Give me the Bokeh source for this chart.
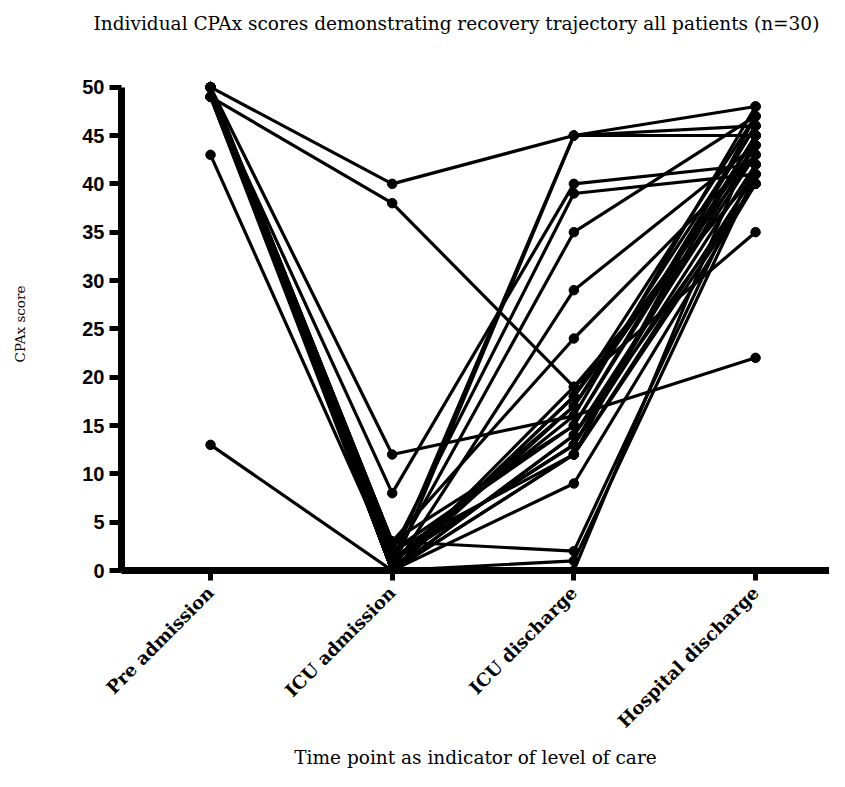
from math import pi
from bokeh.plotting import figure
from bokeh.models import Range1d, FixedTicker, Title
from bokeh.embed import file_html
from bokeh.resources import INLINE

time_points = ["Pre admission", "ICU admission", "ICU discharge", "Hospital discharge"]

# CPAx score of each of the 30 patients at each time point
pre_admission = [50, 49, 50, 49, 43, 13, 50, 50, 50, 50, 50, 50, 50, 50, 50,
                 50, 50, 50, 49, 50, 50, 50, 50, 50, 50, 50, 49, 50, 50, 50]
icu_admission = [40, 38, 12, 8, 1, 0, 1, 0, 2, 1, 0, 3, 0, 1, 2,
                 0, 1, 0, 0, 3, 0, 0, 1, 0, 3, 0, 1, 0, 2, 0]
icu_discharge = [45, 19, 16, 40, 13, 12, 45, 45, 39, 35, 29, 24, 18, 17, 15,
                 14, 13, 12, 9, 2, 1, 0, 16, 17, 15, 14, 13, 18, 12, 19]
hospital_discharge = [48, 35, 22, 42, 44, 41, 46, 45, 41, 47, 44, 43, 47, 46, 45,
                      43, 42, 40, 40, 42, 41, 45, 48, 44, 46, 40, 45, 43, 47, 41]

y_ticks = [0, 5, 10, 15, 20, 25, 30, 35, 40, 45, 50]

series = [pre_admission, icu_admission, icu_discharge, hospital_discharge]
n = len(pre_admission)
xpos = list(range(len(time_points)))
xs = [xpos for _ in range(n)]
ys = [[s[i] for s in series] for i in range(n)]
px = [x for x in xpos for _ in range(n)]
py = [v for s in series for v in s]

p = figure(width=829, height=771, output_backend="svg", toolbar_location=None,
           title=None,
           x_range=Range1d(-0.49, 3.407), y_range=Range1d(0, 51),
           min_border_left=121, min_border_right=0, min_border_top=77,
           min_border_bottom=199)
p.outline_line_color = None
p.grid.visible = False
p.background_fill_color = "white"

p.multi_line(xs=xs, ys=ys, line_color="black", line_width=3.2)
p.scatter(x=px, y=py, size=9.5, marker="circle", fill_color="black", line_color="black")

# Spacer panel between frame and title, then the title itself (outermost)
spacer = Title(text=" ", text_font_size="10px", standoff=20)
p.add_layout(spacer, "above")
main_title = Title(text="Individual CPAx scores demonstrating recovery trajectory all patients (n=30)",
                   align="left", vertical_align="top", offset=-28, standoff=18,
                   text_font="DejaVu Serif", text_font_style="normal",
                   text_font_size="18.5px", text_color="black")
p.add_layout(main_title, "above")

# Y axis
ya = p.yaxis[0]
ya.ticker = FixedTicker(ticks=y_ticks)
ya.bounds = (0, 50)
ya.axis_line_width = 7
ya.axis_line_color = "black"
ya.major_tick_line_width = 5
ya.major_tick_out = 12
ya.major_tick_in = 0
ya.minor_tick_line_color = None
ya.major_label_text_font = "Liberation Sans"
ya.major_label_text_font_style = "bold"
ya.major_label_text_font_size = "20px"
ya.major_label_text_color = "black"
ya.major_label_standoff = 5
ya.axis_label = "CPAx score"
ya.axis_label_text_font = "DejaVu Serif"
ya.axis_label_text_font_style = "normal"
ya.axis_label_text_font_size = "13.5px"
ya.axis_label_text_color = "black"
ya.axis_label_standoff = 51

# X axis
xa = p.xaxis[0]
xa.ticker = FixedTicker(ticks=xpos)
xa.major_label_overrides = {i: t for i, t in zip(xpos, time_points)}
xa.major_label_orientation = pi / 4
xa.axis_line_width = 7
xa.axis_line_color = "black"
xa.major_tick_line_width = 5
xa.major_tick_out = 10
xa.major_tick_in = 0
xa.minor_tick_line_color = None
xa.major_label_text_font = "DejaVu Serif"
xa.major_label_text_font_style = "bold"
xa.major_label_text_font_size = "18px"
xa.major_label_text_color = "black"
xa.major_label_standoff = 9
xa.axis_label = "Time point as indicator of level of care"
xa.axis_label_text_font = "DejaVu Serif"
xa.axis_label_text_font_style = "normal"
xa.axis_label_text_font_size = "18.5px"
xa.axis_label_text_color = "black"
xa.axis_label_standoff = 5

open("out.html", "w").write(file_html(p, INLINE))
